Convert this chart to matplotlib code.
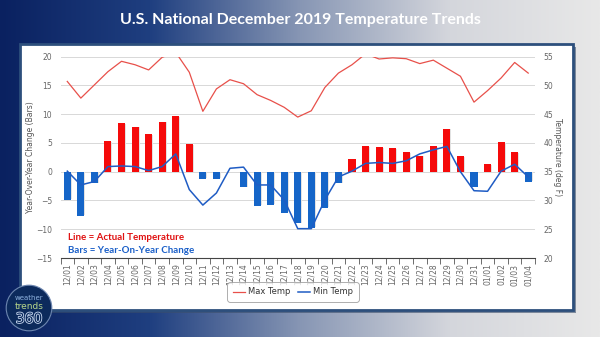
import numpy as np
import matplotlib
matplotlib.use('Agg')
import matplotlib.pyplot as plt
import matplotlib.patheffects as pe
from matplotlib.patches import Rectangle, Circle
from matplotlib.colors import LinearSegmentedColormap

dates = ['12/01', '12/02', '12/03', '12/04', '12/05', '12/06', '12/07', '12/08', '12/09', '12/10',
         '12/11', '12/12', '12/13', '12/14', '12/15', '12/16', '12/17', '12/18', '12/19', '12/20',
         '12/21', '12/22', '12/23', '12/24', '12/25', '12/26', '12/27', '12/28', '12/29', '12/30',
         '12/31', '01/01', '01/02', '01/03', '01/04']
yoy_change = [-4.9, -7.7, -2.0, 5.35, 8.4, 7.85, 6.5, 8.7, 9.7, 4.8,
              -1.2, -1.2, 0.0, -2.7, -5.9, -5.8, -7.2, -9.0, -9.7, -6.3,
              -2.0, 2.2, 4.5, 4.25, 4.1, 3.45, 2.8, 4.5, 7.5, 2.7,
              -2.6, 1.3, 5.2, 3.45, -1.75]
max_temp = [50.7, 47.8, 50.1, 52.4, 54.2, 53.6, 52.7, 54.9, 55.75, 52.3,
            45.5, 49.4, 51.0, 50.3, 48.4, 47.4, 46.2, 44.5, 45.6, 49.65,
            52.15, 53.6, 55.5, 54.6, 54.8, 54.65, 53.8, 54.4, 53.0, 51.6,
            47.1, 49.1, 51.3, 54.0, 52.15]
min_temp = [35.1, 32.7, 33.3, 35.9, 36.0, 35.9, 35.2, 35.9, 38.1, 31.9,
            29.2, 31.3, 35.6, 35.8, 32.7, 32.7, 30.1, 25.1, 25.1, 30.1,
            34.1, 35.1, 36.45, 36.6, 36.45, 36.9, 38.1, 38.8, 39.4, 35.0,
            31.7, 31.6, 35.1, 36.3, 34.1]

RED = '#f50a0a'
BLUE = '#1565c8'
W, H = 600, 337

fig = plt.figure(figsize=(6, 3.37), dpi=100)

# background frame gradient
bg = fig.add_axes([0, 0, 1, 1], zorder=-10)
cmap = LinearSegmentedColormap.from_list('frame', ['#0a2160', '#1f3f80', '#8796b4', '#d4d6dc', '#e8e8e8'])
grad = np.linspace(0, 1, 256).reshape(1, -1)
bg.imshow(grad, aspect='auto', cmap=cmap, extent=[0, 1, 0, 1])
bg.set_xlim(0, 1)
bg.set_ylim(0, 1)
bg.axis('off')

# white panel with border
bg.add_patch(Rectangle((23 / W, 1 - 313 / H), 553 / W, 266 / H, facecolor='#3a4e6c', edgecolor='none', alpha=0.6))
bg.add_patch(Rectangle((20 / W, 1 - 310 / H), 553 / W, 266 / H, facecolor='white', edgecolor='#2d4f7c', linewidth=2))

fig.text(0.5, 1 - 20 / H, 'U.S. National December 2019 Temperature Trends', color='white',
         fontsize=11.5, fontweight='bold', family='Lato', ha='center', va='center')

# logo
logo = fig.add_axes([5 / W, 1 - 332 / H, 48 / W, 48 / H])
logo.set_xlim(-1, 1)
logo.set_ylim(-1, 1)
logo.set_aspect('equal')
logo.axis('off')
logo.add_patch(Circle((0, 0), 0.95, facecolor='#0c2a5c', edgecolor='#6d86b0', linewidth=0.8))
logo.text(0, 0.42, 'weather', color='#8fb3e0', fontsize=5, ha='center', va='center')
logo.text(0, 0.05, 'trends', color='#b8d88a', fontsize=6.5, ha='center', va='center')
logo.text(0, -0.45, '360', color='#0c2a5c', fontsize=10, ha='center', va='center',
          path_effects=[pe.withStroke(linewidth=1.2, foreground='#c8d8f0')])

ax = fig.add_axes([60.5 / W, 1 - 258 / H, 474.5 / W, 201.3 / H])
x = np.arange(len(dates))
colors = [RED if v >= 0 else BLUE for v in yoy_change]
ax.bar(x + 0.06, np.array(yoy_change) - np.sign(yoy_change) * 0.12, width=0.54, color='#e2e2e2', zorder=2)
ax.bar(x, yoy_change, width=0.52, color=colors, zorder=3)
ax.set_ylim(-15, 20)
ax.set_yticks(np.arange(-15, 21, 5))
ax.set_xlim(-0.5, len(dates) - 0.5)
ax.set_xticks(x)
ax.set_xticklabels(dates, rotation=90, fontsize=5.5, color='#666666')
ax.set_xticks(np.arange(-0.5, len(dates), 1), minor=True)
ax.tick_params(axis='x', which='major', length=0, pad=4)
ax.tick_params(axis='x', which='minor', length=4, color='#555555', width=0.6)
ax.tick_params(axis='y', length=0, labelsize=5.5, labelcolor='#666666', pad=6)
ax.grid(axis='y', color='#d8d8d8', linewidth=0.7, zorder=0)
for s in ['top', 'left', 'right']:
    ax.spines[s].set_visible(False)
ax.spines['bottom'].set_color('#444444')
ax.spines['bottom'].set_linewidth(0.8)
ax.set_ylabel('Year-Over-Year Change (Bars)', fontsize=5.5, color='#555555')
ax.yaxis.set_label_coords(-0.054, 0.5)
ax.set_facecolor('none')

ax2 = ax.twinx()
ax2.plot(x, max_temp, color='#e8504a', linewidth=0.9, label='Max Temp', zorder=4)
ax2.plot(x, min_temp, color='#1f5cc4', linewidth=1.1, label='Min Temp', zorder=4)
ax2.set_ylim(20, 55)
ax2.set_yticks(np.arange(20, 56, 5))
ax2.tick_params(axis='y', length=0, labelsize=5.5, labelcolor='#666666', pad=6)
for s in ['top', 'left', 'right', 'bottom']:
    ax2.spines[s].set_visible(False)
ax2.set_ylabel('Temperature (deg F)', fontsize=5.5, color='#555555', rotation=270)
ax2.yaxis.set_label_coords(1.057, 0.5)

ax.text(0.015, 0.1, 'Line = Actual Temperature', transform=ax.transAxes, color='#e01010',
        fontsize=7, fontweight='bold', family='Lato', va='center')
ax.text(0.015, 0.035, 'Bars = Year-On-Year Change', transform=ax.transAxes, color='#1a5fc8',
        fontsize=7, fontweight='bold', family='Lato', va='center')

leg = ax2.legend(loc='center', bbox_to_anchor=(293 / W, 1 - 292 / H), bbox_transform=fig.transFigure,
                 ncol=2, fontsize=6, frameon=True, handlelength=1.5, columnspacing=0.8, handletextpad=0.4,
                 borderpad=0.5, labelcolor='#333333')
leg.get_frame().set_edgecolor('#999999')
leg.get_frame().set_linewidth(0.7)
leg.get_frame().set_boxstyle('round,pad=0.2,rounding_size=0.4')

fig.savefig('out.png', dpi=100)
